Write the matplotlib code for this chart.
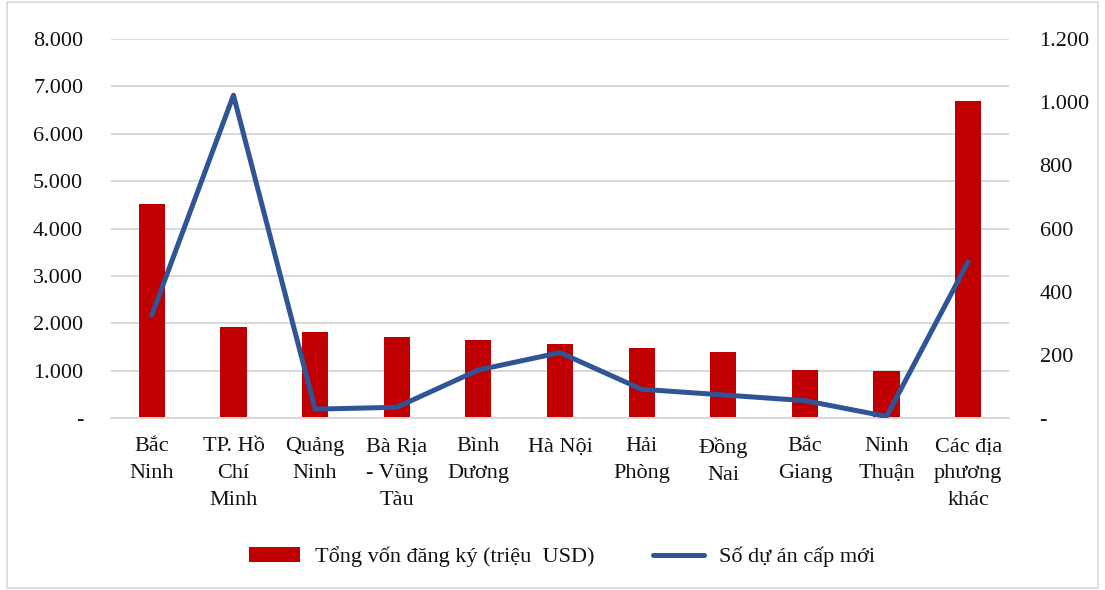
import numpy as np
import matplotlib
matplotlib.use("Agg")
import matplotlib.pyplot as plt
from matplotlib.patches import Rectangle

plt.rcParams['font.family'] = ['Liberation Serif', 'DejaVu Serif']

categories = ["Bắc\nNinh", "TP. Hồ\nChí\nMinh", "Quảng\nNinh", "Bà Rịa\n- Vũng\nTàu",
              "Bình\nDương", "Hà Nội", "Hải\nPhòng", "Đồng\nNai", "Bắc\nGiang",
              "Ninh\nThuận", "Các địa\nphương\nkhác"]
von_dang_ky = [4510, 1920, 1810, 1700, 1640, 1560, 1480, 1400, 1020, 990, 6690]
so_du_an = [326, 1022, 28, 34, 152, 207, 91, 73, 55, 5, 495]

left_ticks = [0, 1000, 2000, 3000, 4000, 5000, 6000, 7000, 8000]
right_ticks = [0, 200, 400, 600, 800, 1000, 1200]


def fmt(v):
    if v == 0:
        return "-"
    return f"{v:,}".replace(",", ".")


fig = plt.figure(figsize=(11.05, 5.9), dpi=100)
ax = fig.add_axes([111 / 1105, 1 - 418 / 590, (1009 - 111) / 1105, (418 - 39) / 590])
ax2 = ax.twinx()

x = np.arange(len(categories))
bars = ax.bar(x, von_dang_ky, width=0.32, color="#C00000", zorder=2,
              label="Tổng vốn đăng ký (triệu  USD)")
line, = ax2.plot(x, so_du_an, color="#2F5597", lw=3.6, solid_joinstyle="round",
                 solid_capstyle="round", label="Số dự án cấp mới", zorder=3)

ax.set_xlim(-0.5, len(categories) - 0.5)
ax.set_ylim(0, 8000)
ax2.set_ylim(0, 1200)
ax.set_yticks(left_ticks)
ax.set_yticklabels([fmt(v) for v in left_ticks])
ax2.set_yticks(right_ticks)
ax2.set_yticklabels([fmt(v) for v in right_ticks])
ax.set_xticks(x)
ax.set_xticklabels(categories, linespacing=1.55)

ax.grid(axis="y", color="#D9D9D9", lw=1.4, zorder=0)
ax.set_axisbelow(True)
for a in (ax, ax2):
    for s in a.spines.values():
        s.set_visible(False)
ax.spines["bottom"].set_visible(True)
ax.spines["bottom"].set_color("#D9D9D9")
ax.spines["bottom"].set_linewidth(1.4)

ax.tick_params(axis="y", length=0, pad=20, labelsize=16, colors="#111111")
ax2.tick_params(axis="y", length=0, pad=22, labelsize=16, colors="#111111")
ax.tick_params(axis="x", length=0, pad=14, labelsize=16, colors="#111111")

fig.legend([bars, line], [bars.get_label(), line.get_label()],
           loc="center", bbox_to_anchor=(562 / 1105, 1 - 557 / 590), ncol=2,
           frameon=False, fontsize=16, handlelength=2.3, handletextpad=0.7,
           columnspacing=2.6, labelcolor="#111111")

fig.patches.append(Rectangle((7 / 1105, 2 / 590), 1 - 14 / 1105, 1 - 4 / 590,
                             transform=fig.transFigure, fill=False,
                             edgecolor="#D9D9D9", lw=1.2))

fig.savefig("out.png", dpi=100)
